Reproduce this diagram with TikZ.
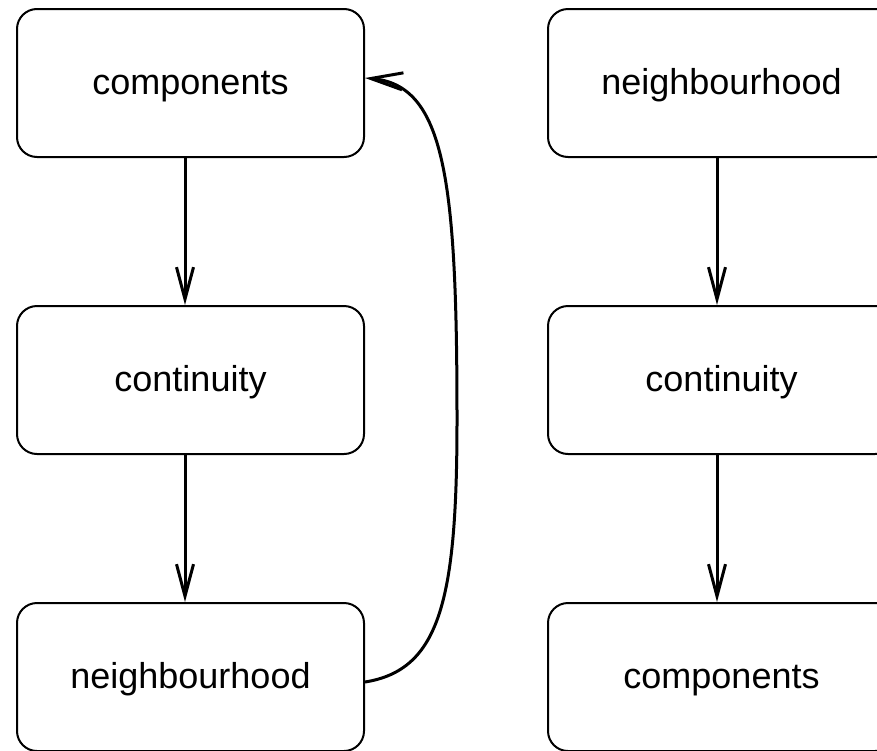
\documentclass[tikz,border=0pt]{standalone}
\usepackage{fontspec}
\setmainfont{Liberation Sans}
\usetikzlibrary{arrows.meta}
\begin{document}
\begin{tikzpicture}[x=1pt,y=-1pt,
  box/.style={draw, line width=2pt, rounded corners=20pt, minimum width=347pt, minimum height=148pt, inner sep=0pt, text height=30pt, text depth=8pt, font=\fontsize{36}{43}\selectfont},
  arr/.style={line width=3pt, -{Straight Barb[length=32pt,width=17pt,line width=3pt]}}]
\useasboundingbox (0,0) rectangle (877,750);
\node[box] (L1) at (190.5,83) {components};
\node[box] (L2) at (190.5,380) {continuity};
\node[box] (L3) at (190.5,677) {neighbourhood};
\node[box] (R1) at (721.5,83) {neighbourhood};
\node[box] (R2) at (721.5,380) {continuity};
\node[box] (R3) at (721.5,677) {components};
\draw[arr] ([xshift=-5.5pt]L1.south) -- ([xshift=-5.5pt]L2.north);
\draw[arr] ([xshift=-5.5pt]L2.south) -- ([xshift=-5.5pt]L3.north);
\draw[arr] ([xshift=-4.5pt]R1.south) -- ([xshift=-4.5pt]R2.north);
\draw[arr] ([xshift=-4.5pt]R2.south) -- ([xshift=-4.5pt]R3.north);
\coordinate (M) at (457,420);
\draw[arr] ([yshift=-5pt]L3.east) .. controls (440,670) and (457,600) .. (M)
  .. controls (457,180) and (445,85) .. ([yshift=5pt]L1.east);
\end{tikzpicture}
\end{document}
